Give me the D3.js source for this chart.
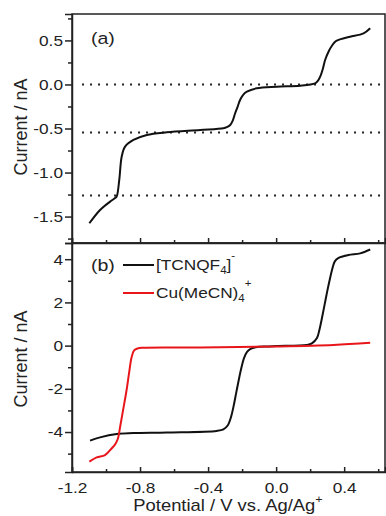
<!DOCTYPE html>
<html lang="en">
<head>
<meta charset="utf-8">
<title>Voltammograms</title>
<script src="https://d3js.org/d3.v7.min.js"></script>
<style>
  body { margin: 0; background: #fff; }
  svg { font-family: "Liberation Sans", Arial, sans-serif; }
  .axis path, .axis line { stroke: #222; stroke-width: 1.5px; }
  .axis text { font-size: 15px; fill: #222; }
  .sx { transform-box: fill-box; transform-origin: center; transform: scaleX(1.15); }
  .sxr { transform-box: fill-box; transform-origin: right center; transform: scaleX(1.15); }
  .sxl { transform-box: fill-box; transform-origin: left center; transform: scaleX(1.15); }
  .frame { fill: none; stroke: #222; stroke-width: 1.5px; }
  .dots { stroke: #222; stroke-width: 2px; stroke-dasharray: 2,6; }
  .curve { fill: none; stroke-width: 2px; stroke-linejoin: round; }
</style>
</head>
<body>
<svg width="386" height="516"></svg>
<script>
// panel (a): single sweep
var potA = [-1.098, -1.035, -0.976, -0.947, -0.937, -0.922, -0.908, -0.888, -0.839, -0.76, -0.643, -0.447, -0.31, -0.29, -0.27, -0.255, -0.241, -0.225, -0.212, -0.195, -0.172, -0.114, 0.004, 0.141, 0.229, 0.245, 0.259, 0.275, 0.288, 0.31, 0.328, 0.35, 0.38, 0.435, 0.514, 0.553];
var curA = [-1.576, -1.425, -1.33, -1.29, -1.27, -1.08, -0.82, -0.706, -0.63, -0.573, -0.543, -0.517, -0.497, -0.485, -0.46, -0.41, -0.327, -0.245, -0.176, -0.12, -0.082, -0.043, -0.025, -0.014, 0.013, 0.04, 0.088, 0.18, 0.278, 0.38, 0.44, 0.49, 0.515, 0.542, 0.58, 0.638];
var dotLevels = [0, -0.545, -1.26];

// panel (b): [TCNQF4]- (black) and Cu(MeCN)4+ (red)
var potTC = [-1.094, -1.035, -0.937, -0.84, -0.643, -0.35, -0.31, -0.285, -0.265, -0.25, -0.235, -0.22, -0.205, -0.19, -0.172, -0.15, -0.12, -0.06, 0.004, 0.18, 0.21, 0.24, 0.255, 0.27, 0.285, 0.3, 0.315, 0.33, 0.345, 0.365, 0.425, 0.494, 0.553];
var curTC = [-4.40, -4.246, -4.09, -4.05, -4.02, -3.95, -3.88, -3.7, -3.3, -2.8, -2.2, -1.6, -1.05, -0.6, -0.3, -0.15, -0.08, -0.04, -0.02, 0.03, 0.1, 0.35, 0.75, 1.3, 1.9, 2.5, 3.05, 3.55, 3.9, 4.05, 4.19, 4.27, 4.45];
var potCu = [-1.098, -1.055, -1.006, -0.966, -0.945, -0.93, -0.918, -0.9, -0.88, -0.865, -0.85, -0.835, -0.815, -0.78, -0.447, 0.004, 0.337, 0.553];
var curCu = [-5.37, -5.17, -5.07, -4.75, -4.55, -4.3, -3.8, -3.0, -2.1, -1.3, -0.55, -0.22, -0.13, -0.10, -0.09, -0.04, 0.03, 0.13];

var xTicks = [-1.2, -0.8, -0.4, 0.0, 0.4];
var xMinor = [-1.0, -0.6, -0.2, 0.2, 0.6];
var yTicksA = [-1.5, -1.0, -0.5, 0.0, 0.5];
var yMinorA = [-1.75, -1.25, -0.75, -0.25, 0.25, 0.75];
var yTicksB = [-4, -2, 0, 2, 4];
var yMinorB = [-5, -3, -1, 1, 3];

var svg = d3.select("svg");
var left = 72, right = 385, topA = 14, midY = 243, botB = 472;

var x = d3.scaleLinear().domain([-1.2, 0.64]).range([left, right]);
var yA = d3.scaleLinear().domain([-1.8, 0.8]).range([midY, topA]);
var yB = d3.scaleLinear().domain([-5.85, 4.75]).range([botB, midY]);

function zip(a, b) { return a.map(function(v, i) { return [v, b[i]]; }); }

// plain hyphen minus like the original
function fmt(spec) {
  var f = d3.format(spec);
  return function(d) { return f(d).replace("\u2212", "-"); };
}

function yAxes(y, major, minor, tf) {
  var g = svg.append("g").attr("class", "axis").attr("transform", "translate(" + left + ",0)");
  g.call(d3.axisLeft(y).tickValues(major).tickFormat(tf).tickSize(7).tickPadding(2));
  g.selectAll("text").attr("class", "sxr");
  svg.append("g").attr("class", "axis").attr("transform", "translate(" + left + ",0)")
    .call(d3.axisLeft(y).tickValues(minor).tickFormat("").tickSize(4))
    .select(".domain").remove();
}

function xAxes(yPos, labels) {
  var g = svg.append("g").attr("class", "axis").attr("transform", "translate(0," + yPos + ")");
  g.call(d3.axisBottom(x).tickValues(xTicks).tickSize(-5).tickPadding(10)
    .tickFormat(labels ? fmt(".1f") : ""));
  g.selectAll("text").attr("class", "sx");
  svg.append("g").attr("class", "axis").attr("transform", "translate(0," + yPos + ")")
    .call(d3.axisBottom(x).tickValues(xMinor).tickSize(-3).tickFormat(""))
    .select(".domain").remove();
}

// dotted guide lines in (a)
svg.append("g").selectAll("line").data(dotLevels).enter().append("line")
  .attr("class", "dots")
  .attr("x1", x(-1.141)).attr("x2", x(0.64))
  .attr("y1", function(d) { return yA(d); })
  .attr("y2", function(d) { return yA(d); });

var lineA = d3.line().curve(d3.curveCatmullRom.alpha(0.5))
  .x(function(d) { return x(d[0]); }).y(function(d) { return yA(d[1]); });
var lineB = d3.line().curve(d3.curveCatmullRom.alpha(0.5))
  .x(function(d) { return x(d[0]); }).y(function(d) { return yB(d[1]); });

svg.append("path").attr("class", "curve").attr("stroke", "#111").attr("d", lineA(zip(potA, curA)));
svg.append("path").attr("class", "curve").attr("stroke", "#111").attr("d", lineB(zip(potTC, curTC)));
svg.append("path").attr("class", "curve").attr("stroke", "#e8161b").attr("d", lineB(zip(potCu, curCu)));

// frames
svg.append("rect").attr("class", "frame").attr("x", left).attr("y", topA)
  .attr("width", right - left).attr("height", midY - topA);
svg.append("rect").attr("class", "frame").attr("x", left).attr("y", midY)
  .attr("width", right - left).attr("height", botB - midY);

yAxes(yA, yTicksA, yMinorA, fmt(".1f"));
yAxes(yB, yTicksB, yMinorB, fmt("d"));
xAxes(midY, false);
xAxes(botB, true);

// panel letters
svg.append("text").attr("class", "sxl").attr("x", 91).attr("y", 44)
  .style("font-size", "17px").attr("fill", "#222").text("(a)");
svg.append("text").attr("class", "sxl").attr("x", 91).attr("y", 271)
  .style("font-size", "17px").attr("fill", "#222").text("(b)");

// legend
var legend = [
  { color: "#111", y: 265, parts: [["[TCNQF", 0], ["4", 1], ["]", 0], ["-", -1]] },
  { color: "#e8161b", y: 293, parts: [["Cu(MeCN)", 0], ["4", 1], ["+", -1]] }
];
legend.forEach(function(d) {
  svg.append("line").attr("x1", 123).attr("x2", 154).attr("y1", d.y).attr("y2", d.y)
    .attr("stroke", d.color).attr("stroke-width", 2);
  var t = svg.append("text").attr("class", "sxl").attr("x", 156).attr("y", d.y + 5)
    .style("font-size", "15px").attr("fill", "#222");
  var shift = 0;
  d.parts.forEach(function(p) {
    var dy = p[1] === 1 ? 4 : p[1] === -1 ? -11 : 0;
    t.append("tspan").attr("dy", dy - shift)
      .style("font-size", p[1] === 0 ? "15px" : "10px").text(p[0]);
    shift = dy;
  });
});

// axis titles
[127, 359].forEach(function(cy) {
  svg.append("text").attr("transform", "translate(27," + cy + ") rotate(-90)")
    .attr("text-anchor", "middle").style("font-size", "18px").attr("fill", "#222")
    .text("Current / nA");
});
var xt = svg.append("text").attr("class", "sx").attr("x", 228).attr("y", 511)
  .attr("text-anchor", "middle").style("font-size", "16px").attr("fill", "#222");
xt.append("tspan").text("Potential / V vs. Ag/Ag");
xt.append("tspan").attr("dy", -8).style("font-size", "11px").text("+");
</script>
</body>
</html>
